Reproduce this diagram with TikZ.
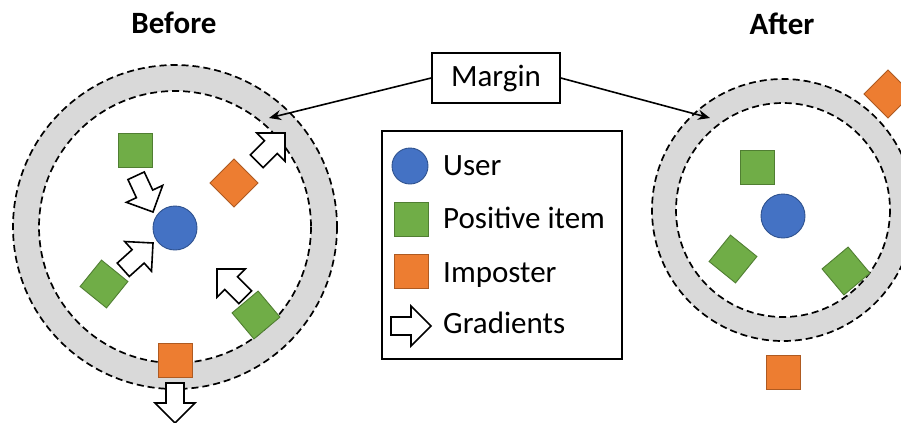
\documentclass[tikz,border=0pt]{standalone}
\usepackage{fontspec}
\setmainfont{Carlito}
\usetikzlibrary{arrows.meta}

\definecolor{userblue}{HTML}{4472C4}
\definecolor{userblueline}{HTML}{2F528F}
\definecolor{posgreen}{HTML}{70AD47}
\definecolor{posgreenline}{HTML}{507E32}
\definecolor{impfill}{HTML}{ED7D31}
\definecolor{impline}{HTML}{AE5A21}
\definecolor{ringgray}{HTML}{D9D9D9}

\tikzset{
  userdot/.style={circle, fill=userblue, draw=userblueline, line width=0.9bp,
    minimum size=44bp, inner sep=0pt},
  positem/.style={rectangle, fill=posgreen, draw=posgreenline, line width=0.9bp,
    minimum size=34bp, inner sep=0pt},
  impitem/.style={rectangle, fill=impfill, draw=impline, line width=0.9bp,
    minimum size=34bp, inner sep=0pt},
  ringline/.style={draw=black, line width=1.7bp, dash pattern=on 7bp off 4bp},
  lbl/.style={font=\fontsize{31bp}{36bp}\selectfont, inner sep=0pt, anchor=base west},
  heading/.style={font=\fontsize{31bp}{36bp}\selectfont\bfseries, inner sep=0pt, anchor=base},
  framebox/.style={draw=black, line width=1.6bp, inner sep=0pt},
  gradarrow/.style={draw=black, fill=white, line width=1.6bp, line join=miter},
  marginarrow/.style={draw=black, line width=1.6bp, -{Stealth[length=12bp,width=10bp]}},
}

% block arrow with its tip at #1, pointing in direction #2 (degrees)
\newcommand\gradient[2]{%
  \draw[gradarrow, shift={#1}, rotate=#2]
    (0,0) -- (-20,20) -- (-20,9) -- (-40,9) -- (-40,-9) -- (-20,-9) -- (-20,-20) -- cycle;}

\begin{document}
\begin{tikzpicture}[x=1bp, y=-1bp]
  \useasboundingbox (0,0) rectangle (901,422);
  \clip (0,0) rectangle (901,422);
  \fill[white] (0,0) rectangle (901,422);

  % ---- Before ----
  \node[heading] (before) at (174,33) {Before};
  \coordinate (lc) at (175,227);
  \fill[ringgray] (lc) circle[radius=162];
  \fill[white] (lc) circle[radius=136];
  \draw[ringline] (lc) circle[radius=162];
  \draw[ringline] (lc) circle[radius=136];

  \node[userdot] (uL) at (175,228) {};
  \node[positem] (pL1) at (135,150) {};
  \node[positem, rotate=-39] (pL2) at (104,284) {};
  \node[positem, rotate=40] (pL3) at (256,315) {};
  \node[impitem, rotate=45] (iL1) at (234,183) {};
  \node[impitem] (iL2) at (175,360) {};

  \gradient{(153,212)}{-65}
  \gradient{(153,243)}{42}
  \gradient{(217,269)}{135}
  \gradient{(285,133)}{45}
  \gradient{(175,423)}{-90}

  % ---- After ----
  \node[heading] (after) at (782,34) {After};
  \coordinate (rc) at (783,210);
  \fill[ringgray] (rc) circle[radius=131];
  \fill[white] (rc) circle[radius=107];
  \draw[ringline] (rc) circle[radius=131];
  \draw[ringline] (rc) circle[radius=107];

  \node[userdot] (uR) at (783,216) {};
  \node[positem] (pR1) at (757,167) {};
  \node[positem, rotate=-39] (pR2) at (733,259) {};
  \node[positem, rotate=40] (pR3) at (846,271) {};
  \node[impitem, rotate=45] (iR1) at (888,94) {};
  \node[impitem] (iR2) at (783,372) {};

  % ---- Margin callout ----
  \node[framebox, fill=white, minimum width=128bp, minimum height=50bp,
        font=\fontsize{31bp}{36bp}\selectfont] (margin) at (496,78) {Margin};
  \coordinate (mL) at (269,118);
  \coordinate (mR) at (710,118);
  \draw[marginarrow] (margin.west) -- (mL);
  \draw[marginarrow] (margin.east) -- (mR);

  % ---- Legend ----
  \node[framebox, minimum width=240bp, minimum height=228bp] (legend) at (502,245) {};
  \node[userdot, minimum size=36bp] (kUser) at (410,166) {};
  \node[positem] (kPos) at (411,219) {};
  \node[impitem] (kImp) at (411,271) {};
  \gradient{(431,326)}{0}
  \node[lbl] (tUser) at (443,175) {User};
  \node[lbl] (tPos) at (443,228) {Positive item};
  \node[lbl] (tImp) at (443,282) {Imposter};
  \node[lbl] (tGrad) at (443,333) {Gradients};
\end{tikzpicture}
\end{document}
